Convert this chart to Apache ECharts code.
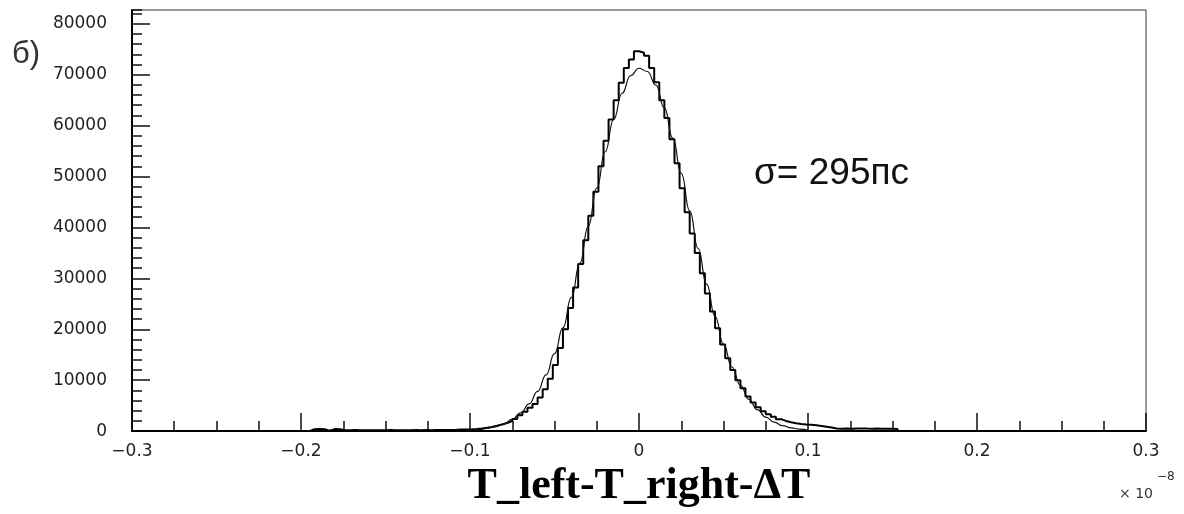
<!DOCTYPE html>
<html>
<head>
<meta charset="utf-8">
<script src="https://cdn.jsdelivr.net/npm/echarts@6/dist/echarts.min.js"></script>
<style>
html,body{margin:0;padding:0;background:#fff;}
#chart{width:1184px;height:514px;}
</style>
</head>
<body>
<div id="chart"></div>
<script>
// ---- data ----
const binWidth = 0.003;          // histogram bin width (x 10^-8 s)
const histStart = -0.195;        // left edge of first non-empty bin
const histCounts = [
  380, 400, 360, 90, 390, 370,
  180, 160, 200, 150, 170, 190, 160, 180, 150, 200, 170, 160, 190, 180, 210, 170, 200, 190, 220, 210, 240, 230, 260,
  300, 330,
  340, 400, 520, 650, 820, 1050, 1300, 1600, 1950, 2400,
  3100, 3800, 4600, 5300, 6600, 8200, 10300, 13000, 16300, 20000,
  24200, 28200, 32800, 37500, 42300, 47000, 52000, 57000, 61200, 65000,
  68400, 71300, 73000, 74600,
  74300, 73700, 71300, 68500, 65000, 61500, 57300, 52600, 47700, 43000,
  38800, 35000, 31000, 27000, 23500, 20200, 17000, 14300, 12000, 10000,
  8400, 6800, 5600, 4700, 3900, 3300, 2800, 2350, 2000, 1750,
  1550, 1400, 1300, 1250,
  1150, 1000, 850, 700,
  520, 480, 510, 470, 500, 530, 490, 460, 500, 480, 450, 470, 430
];
const fitStart = -0.1;
const fitStep = 0.005;
const fitValues = [
  165, 300, 520, 880, 1440, 2300, 3560, 5350, 7810, 11050,
  15200, 20270, 26250, 33000, 40270, 47710, 54860, 61230, 66350, 69790,
  71260,
  70620, 67950, 63460, 57530, 50620, 43250, 35860, 28860, 22550, 17100,
  12590, 9000, 6250, 4200, 2750, 1745, 1075, 642, 373, 210
];
const xMin = -0.3, xMax = 0.3, xInterval = 0.1;
const yMin = 0, yMax = 82700, yInterval = 10000, yMinorInterval = 2000;
const xTitle = 'T_left-T_right-ΔT';
const sigmaText = 'σ= 295пс';
const panelLabel = 'б)';

// ---- build series data ----
const histData = [[xMin, 0]];
histCounts.forEach((c, i) => histData.push([histStart + i * binWidth, c]));
histData.push([histStart + histCounts.length * binWidth, 0]);
histData.push([xMax, 0]);
const fitData = fitValues.map((v, i) => [fitStart + i * fitStep, v]);

const labelFont = 'DejaVu Sans';
const chart = echarts.init(document.getElementById('chart'), null, {renderer: 'canvas'});
chart.setOption({
  animation: false,
  backgroundColor: '#fff',
  grid: {left: 132, right: 38, top: 10, bottom: 74, show: true, borderColor: '#333', borderWidth: 1},
  xAxis: {
    type: 'value', min: xMin, max: xMax, interval: xInterval,
    name: xTitle, nameLocation: 'middle', nameGap: 29,
    nameTextStyle: {fontFamily: 'Liberation Serif', fontWeight: 'bold', fontSize: 44, color: '#000'},
    axisLine: {show: true, onZero: false, lineStyle: {color: '#000', width: 2}},
    axisTick: {show: true, inside: true, length: 18, lineStyle: {color: '#111', width: 1.5}},
    minorTick: {show: true, splitNumber: 4, length: 10, lineStyle: {color: '#111', width: 1.5}},
    splitLine: {show: false},
    axisLabel: {
      margin: 12, fontFamily: labelFont, fontSize: 17, color: '#222',
      formatter: v => Math.abs(v) < 1e-9 ? '0' : (v < 0 ? '\u2212' + (-v).toFixed(1) : v.toFixed(1))
    }
  },
  yAxis: [{
    type: 'value', min: yMin, max: yMax, interval: yInterval, position: 'left',
    axisLine: {show: true, onZero: false, lineStyle: {color: '#000', width: 2}},
    axisTick: {show: true, inside: true, length: 18, lineStyle: {color: '#111', width: 1.5}},
    splitLine: {show: false},
    axisLabel: {
      margin: 25, fontFamily: labelFont, fontSize: 17, color: '#222', showMaxLabel: false,
      formatter: v => (v % yInterval === 0 && v <= 80000) ? String(v) : ''
    }
  }, {
    type: 'value', min: yMin, max: yMax, interval: yMinorInterval, position: 'left', offset: 0,
    axisLine: {show: false, onZero: false},
    axisTick: {show: true, inside: true, length: 10, lineStyle: {color: '#111', width: 1.5}},
    splitLine: {show: false},
    axisLabel: {show: false}
  }],
  series: [{
    type: 'line', name: 'hist', data: histData, step: 'end', showSymbol: false,
    lineStyle: {color: '#000', width: 2}, z: 3
  }, {
    type: 'line', name: 'fit', data: fitData, smooth: true, smoothMonotone: 'x', showSymbol: false,
    lineStyle: {color: '#111', width: 1.2}, z: 4
  }],
  graphic: [
    {type: 'text', left: 12, top: 39, style: {text: panelLabel, font: '31px "Liberation Sans"', fill: '#333'}},
    {type: 'text', left: 754, top: 155, style: {text: sigmaText, font: '37px "Liberation Sans"', fill: '#111'}},
    {type: 'text', left: 1119, top: 487, style: {text: '\u00d7 10', font: '14px "DejaVu Sans"', fill: '#333'}},
    {type: 'text', left: 1157, top: 471, style: {text: '\u22128', font: '12px "DejaVu Sans"', fill: '#333'}}
  ]
});
</script>
</body>
</html>
